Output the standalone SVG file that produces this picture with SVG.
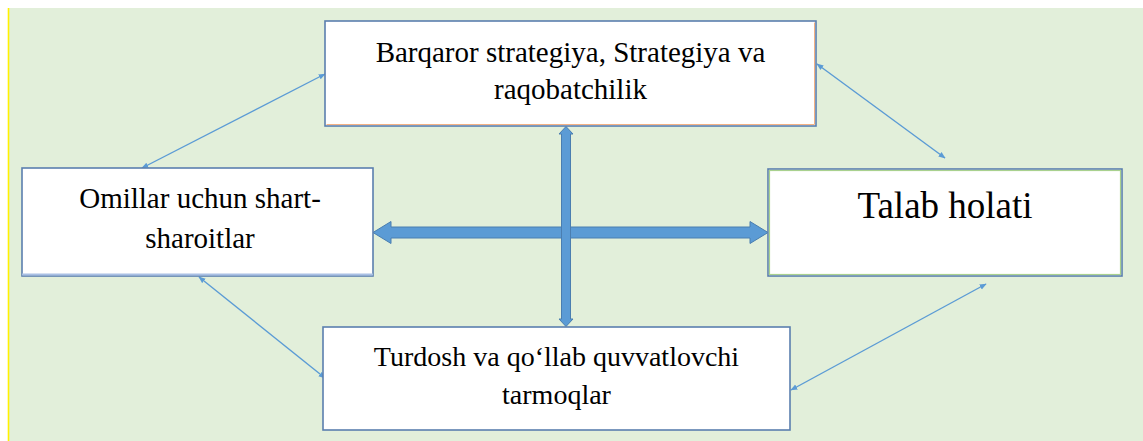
<svg xmlns="http://www.w3.org/2000/svg" width="1143" height="441" viewBox="0 0 1143 441">
<style>
.box{fill:#ffffff;stroke:#5B7FAE;stroke-width:1.6}
.t{font-family:'Liberation Serif','DejaVu Serif',serif;fill:#000;text-anchor:middle}
.thin{stroke:#5B9BD5;stroke-width:1.4;fill:none;marker-start:url(#ah);marker-end:url(#ah)}
.big{fill:#5B9BD5;stroke:#4A7EB0;stroke-width:1}
</style>
<defs>
<marker id="ah" viewBox="0 0 10 10" refX="9" refY="5" markerWidth="7" markerHeight="7" orient="auto-start-reverse" markerUnits="userSpaceOnUse">
<path d="M0,1 L10,5 L0,9 Z" fill="#5B9BD5"/>
</marker>
</defs>
<rect x="0" y="0" width="1143" height="441" fill="#ffffff"/>
<rect x="8" y="8" width="1135" height="433" fill="#E2EFDA"/>
<line x1="8.5" y1="8" x2="8.5" y2="441" stroke="#FFF200" stroke-width="1.6"/>
<g id="connectors">
<line class="thin" x1="325" y1="74" x2="142" y2="168"/>
<line class="thin" x1="817" y1="64" x2="945" y2="158"/>
<line class="thin" x1="199" y1="277" x2="325" y2="378"/>
<line class="thin" x1="791" y1="390" x2="986" y2="284"/>
<path class="big" d="M373,232.5 L391,221.5 L391,227 L750,227 L750,221.5 L768,232.5 L750,243.5 L750,238 L391,238 L391,243.5 Z"/>
<path class="big" d="M566,126.5 L573,134 L570.5,134 L570.5,319 L573,319 L566,326.5 L559,319 L561.5,319 L561.5,134 L559,134 Z"/>
</g>
<g id="top">
<rect class="box" x="325" y="21" width="491" height="105"/>
<polyline points="326.5,124.5 814.5,124.5 814.5,22.5" fill="none" stroke="#F4B183" stroke-width="1"/>
<text class="t" x="570.5" y="62" font-size="29">Barqaror strategiya, Strategiya va</text>
<text class="t" x="570.5" y="99" font-size="29">raqobatchilik</text>
</g>
<g id="left">
<rect class="box" x="22" y="168" width="351" height="108"/>
<line x1="22" y1="274.5" x2="373" y2="274.5" stroke="#A9C0E4" stroke-width="2"/>
<text class="t" x="200" y="208" font-size="29">Omillar uchun shart-</text>
<text class="t" x="200" y="248" font-size="29">sharoitlar</text>
</g>
<g id="right">
<rect class="box" x="768" y="169" width="354" height="107"/>
<rect x="769.5" y="170.5" width="351" height="104" fill="none" stroke="#A9D18E" stroke-width="1.2"/>
<text class="t" x="945" y="218" font-size="37">Talab holati</text>
</g>
<g id="bottom">
<rect class="box" x="323" y="327" width="467" height="103"/>
<text class="t" x="556.5" y="366" font-size="28">Turdosh va qo‘llab quvvatlovchi</text>
<text class="t" x="556.5" y="404" font-size="28">tarmoqlar</text>
</g>
</svg>
